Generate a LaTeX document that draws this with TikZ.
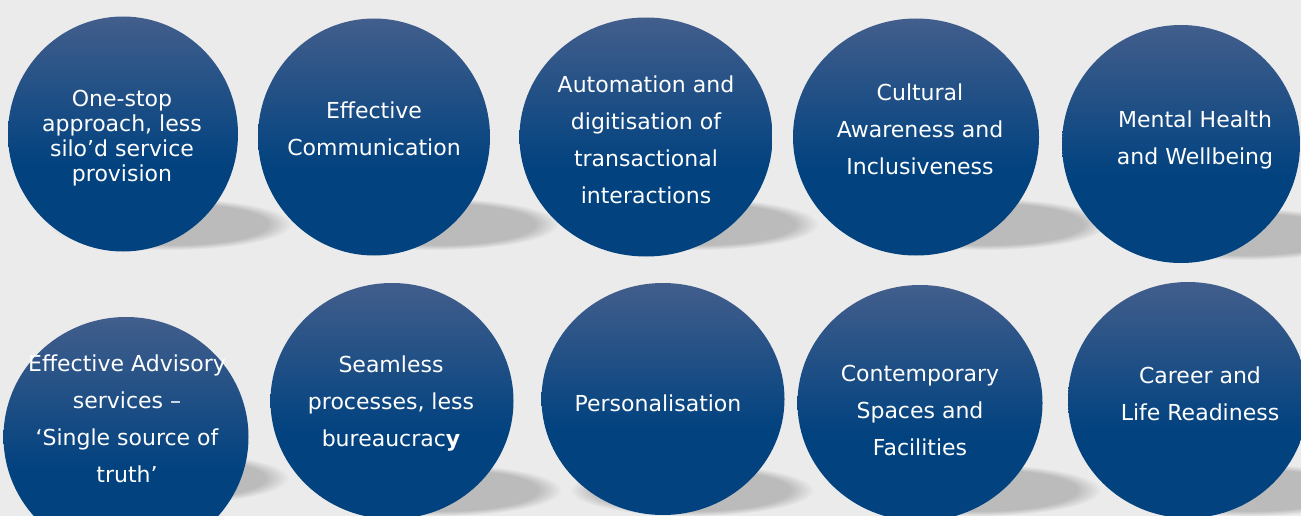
\documentclass[tikz,border=0pt]{standalone}
\usepackage{fontspec}
\setmainfont{DejaVu Sans}
\usetikzlibrary{shapes.geometric}

\definecolor{bgcol}{HTML}{EBEBEB}
\definecolor{shadecol}{HTML}{BBBBBB}
\definecolor{balltop}{HTML}{425E8C}
\definecolor{ballbot}{HTML}{01427F}
\pgfdeclareradialshading{shadowfade}{\pgfpoint{0bp}{0bp}}{color(0bp)=(shadecol); color(20bp)=(shadecol); color(25bp)=(bgcol); color(50bp)=(bgcol)}
\pgfdeclareverticalshading{ballfade}{100bp}{color(0bp)=(ballbot); color(43bp)=(ballbot); color(75bp)=(balltop); color(100bp)=(balltop)}

\begin{document}
\begin{tikzpicture}[x=1pt,y=-1pt,
	ball/.style={ellipse,inner sep=0pt,shading=ballfade},
	txt/.style={text=white,align=center,inner sep=0pt,font=\fontsize{22}{37}\selectfont},
	shadow/.style={shading=shadowfade}]

\useasboundingbox (0,0) rectangle (1301,516);
\fill[bgcol] (0,0) rectangle (1301,516);
\clip (0,0) rectangle (1301,516);

% shadows behind the balls
\shade[shadow] (170,224) ellipse [x radius=122pt,y radius=26pt];
\shade[shadow] (437,224) ellipse [x radius=122pt,y radius=26pt];
\shade[shadow] (697,224) ellipse [x radius=122pt,y radius=26pt];
\shade[shadow] (985,224) ellipse [x radius=122pt,y radius=26pt];
\shade[shadow] (1245,234) ellipse [x radius=122pt,y radius=26pt];
\shade[shadow] (167,478) ellipse [x radius=122pt,y radius=26pt];
\shade[shadow] (440,490) ellipse [x radius=122pt,y radius=26pt];
\shade[shadow] (692,490) ellipse [x radius=122pt,y radius=26pt];
\shade[shadow] (979,490) ellipse [x radius=122pt,y radius=26pt];
\shade[shadow] (1250,490) ellipse [x radius=122pt,y radius=26pt];

% top row
\node[ball,minimum width=230pt,minimum height=235pt]   (c1) at (123,134)   {};
\node[ball,minimum width=232pt,minimum height=237pt]   (c2) at (374,137)   {};
\node[ball,minimum width=253pt,minimum height=239pt]   (c3) at (646,137)   {};
\node[ball,minimum width=246pt,minimum height=237pt]   (c4) at (916,137)   {};
\node[ball,minimum width=238pt,minimum height=238pt]   (c5) at (1181,144)  {};

% bottom row
\node[ball,minimum width=245pt,minimum height=240pt]   (c6) at (126,437)   {};
\node[ball,minimum width=243pt,minimum height=236pt]   (c7) at (392,401)   {};
\node[ball,minimum width=243pt,minimum height=232pt]   (c8) at (663,399)   {};
\node[ball,minimum width=245pt,minimum height=236pt]   (c9) at (920,403)   {};
\node[ball,minimum width=240pt,minimum height=236pt]   (c10) at (1188,400) {};

\node[txt,font=\fontsize{22}{25}\selectfont] (t1) at (122,138) {One-stop\\approach, less\\silo’d service\\provision};
\node[txt] (t2) at (374,129)  {Effective\\Communication};
\node[txt] (t3) at (646,140)  {Automation and\\digitisation of\\transactional\\interactions};
\node[txt] (t4) at (920,129)  {Cultural\\Awareness and\\Inclusiveness};
\node[txt] (t5) at (1195,140) {Mental Health\\and Wellbeing};
\node[txt] (t6) at (127,419)  {Effective Advisory\\services –\\‘Single source of\\truth’};
\node[txt] (t7) at (391,404)  {Seamless\\processes, less\\bureaucrac\textbf{y}};
\node[txt] (t8) at (658,403)  {Personalisation};
\node[txt] (t9) at (920,410)  {Contemporary\\Spaces and\\Facilities};
\node[txt] (t10) at (1200,394) {Career and\\Life Readiness};
\end{tikzpicture}
\end{document}
